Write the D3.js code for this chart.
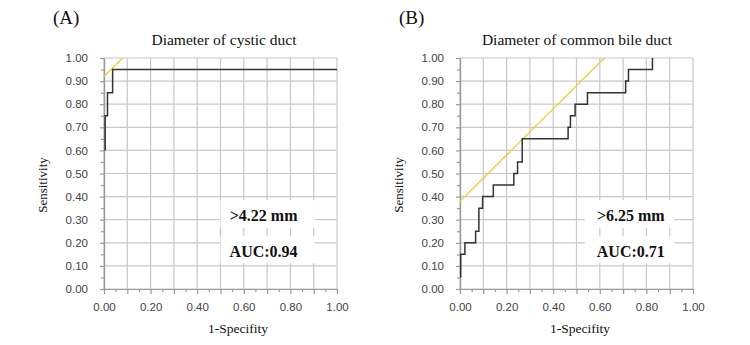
<!DOCTYPE html>
<html>
<head>
<meta charset="utf-8">
<script src="https://cdn.jsdelivr.net/npm/d3@7/dist/d3.min.js"></script>
<style>
  body { margin: 0; background: #fff; }
  svg { display: block; }
</style>
</head>
<body>
<div id="chart"></div>
<script>
// shared axis ticks
const majorTicks = [0, 0.1, 0.2, 0.3, 0.4, 0.5, 0.6, 0.7, 0.8, 0.9, 1.0]
const minorTicks = [0.05, 0.15, 0.25, 0.35, 0.45, 0.55, 0.65, 0.75, 0.85, 0.95]
const xLabelTicks = [0, 0.2, 0.4, 0.6, 0.8, 1.0]

// panel A - cystic duct (points where each step ends)
const fprA = [0.005, 0.005, 0.015, 0.037, 1.0]
const tprA = [0.60, 0.75, 0.85, 0.95, 0.95]
const refFprA = [0, 0.08]
const refTprA = [0.92, 1.0]

// panel B - common bile duct
const fprB = [0.003, 0.003, 0.021, 0.067, 0.081, 0.097, 0.143, 0.231, 0.247, 0.267,
  0.464, 0.474, 0.494, 0.547, 0.711, 0.723, 0.826]
const tprB = [0.05, 0.15, 0.20, 0.25, 0.35, 0.40, 0.45, 0.50, 0.55, 0.65,
  0.70, 0.75, 0.80, 0.85, 0.90, 0.95, 1.00]
const refFprB = [0, 0.62]
const refTprB = [0.38, 1.0]

const panelTags = ['(A)', '(B)']
const titles = ['Diameter of cystic duct', 'Diameter of common bile duct']
const cutoffs = ['>4.22 mm', '>6.25 mm']
const aucs = ['AUC:0.94', 'AUC:0.71']

const W = 750, H = 345
const SERIF = "'Liberation Serif', 'Times New Roman', serif"
const SANS = "'Liberation Sans', Arial, sans-serif"

const svg = d3.select('#chart').append('svg')
  .attr('width', W).attr('height', H)
svg.append('rect').attr('width', W).attr('height', H).attr('fill', '#fff')

// layout for each panel
const panels = [
  { left: 104, tagX: 53, titleX: 224, xLabelX: 238, fpr: fprA, tpr: tprA,
    ref: [refFprA, refTprA], box: [0.5, 0.905], textX: 0.685 },
  { left: 460, tagX: 399, titleX: 577, xLabelX: 580, fpr: fprB, tpr: tprB,
    ref: [refFprB, refTprB], box: [0.535, 0.92], textX: 0.733 },
]
const plotW = 233
const plotTop = 58, plotBottom = 289

panels.forEach((p, i) => {
  const x = d3.scaleLinear().domain([0, 1]).range([p.left, p.left + plotW])
  const y = d3.scaleLinear().domain([0, 1]).range([plotBottom, plotTop])
  const g = svg.append('g')

  // grid
  g.selectAll('.vgrid').data(majorTicks).enter().append('line')
    .attr('x1', d => x(d)).attr('x2', d => x(d))
    .attr('y1', plotTop).attr('y2', plotBottom)
    .attr('stroke', '#c8c8c8').attr('stroke-width', 1.2)
  g.selectAll('.hgrid').data(majorTicks).enter().append('line')
    .attr('x1', x(0)).attr('x2', x(1))
    .attr('y1', d => y(d)).attr('y2', d => y(d))
    .attr('stroke', '#c8c8c8').attr('stroke-width', 1.2)

  // annotation boxes hide the grid behind the text
  const boxes = [[0.385, 0.265], [0.228, 0.112]]
  boxes.forEach(b => {
    g.append('rect')
      .attr('x', x(p.box[0])).attr('width', x(p.box[1]) - x(p.box[0]))
      .attr('y', y(b[0])).attr('height', y(b[1]) - y(b[0]))
      .attr('fill', '#fff')
  })

  // axes: major ticks with labels, minor ticks without
  const styleAxis = sel => {
    sel.select('.domain').attr('stroke', '#999').attr('stroke-width', 1.2)
    sel.selectAll('.tick line').attr('stroke', '#999').attr('stroke-width', 1.2)
    sel.selectAll('text').attr('fill', '#444')
      .style('font-family', SANS).style('font-size', '11.5px')
  }
  g.append('g').attr('transform', `translate(0,${plotBottom})`)
    .call(d3.axisBottom(x).tickValues(minorTicks).tickSize(3).tickSizeOuter(0).tickFormat(''))
    .call(styleAxis)
  g.append('g').attr('transform', `translate(0,${plotBottom})`)
    .call(d3.axisBottom(x).tickValues(majorTicks).tickSize(5).tickSizeOuter(0).tickPadding(9)
      .tickFormat(d => xLabelTicks.includes(d) ? d3.format('.2f')(d) : ''))
    .call(styleAxis)
  g.append('g').attr('transform', `translate(${p.left},0)`)
    .call(d3.axisLeft(y).tickValues(minorTicks).tickSize(3).tickSizeOuter(0).tickFormat(''))
    .call(styleAxis)
  g.append('g').attr('transform', `translate(${p.left},0)`)
    .call(d3.axisLeft(y).tickValues(majorTicks).tickSize(4).tickSizeOuter(0).tickPadding(12)
      .tickFormat(d3.format('.2f')))
    .call(styleAxis)

  // reference (Youden) line
  const refPts = p.ref[0].map((v, j) => [v, p.ref[1][j]])
  g.append('path')
    .attr('d', d3.line().x(d => x(d[0])).y(d => y(d[1]))(refPts))
    .attr('fill', 'none').attr('stroke', '#e6d23a').attr('stroke-width', 1.4)

  // ROC step curve
  const pts = p.fpr.map((v, j) => [v, p.tpr[j]])
  g.append('path')
    .attr('d', d3.line().x(d => x(d[0])).y(d => y(d[1])).curve(d3.curveStepAfter)(pts))
    .attr('fill', 'none').attr('stroke', '#333').attr('stroke-width', 1.5)

  // texts
  g.append('text').attr('x', p.tagX).attr('y', 24).text(panelTags[i])
    .style('font-family', SERIF).style('font-size', '19px').attr('fill', '#111')
  g.append('text').attr('x', p.titleX).attr('y', 45).attr('text-anchor', 'middle')
    .text(titles[i]).style('font-family', SERIF).style('font-size', '15.5px').attr('fill', '#111')
  g.append('text').attr('x', p.xLabelX).attr('y', 333).attr('text-anchor', 'middle')
    .text('1-Specifity').style('font-family', SERIF).style('font-size', '13.5px').attr('fill', '#111')
  g.append('text').attr('text-anchor', 'middle')
    .attr('transform', `translate(${p.left - 57},185) rotate(-90)`)
    .text('Sensitivity').style('font-family', SERIF).style('font-size', '13px').attr('fill', '#111')
  g.append('text').attr('x', x(p.textX)).attr('y', 221).attr('text-anchor', 'middle')
    .text(cutoffs[i]).style('font-family', SERIF).style('font-size', '16px')
    .style('font-weight', 'bold').attr('fill', '#111')
  g.append('text').attr('x', x(p.textX)).attr('y', 257).attr('text-anchor', 'middle')
    .text(aucs[i]).style('font-family', SERIF).style('font-size', '16px')
    .style('font-weight', 'bold').attr('fill', '#111')
})
</script>
</body>
</html>
